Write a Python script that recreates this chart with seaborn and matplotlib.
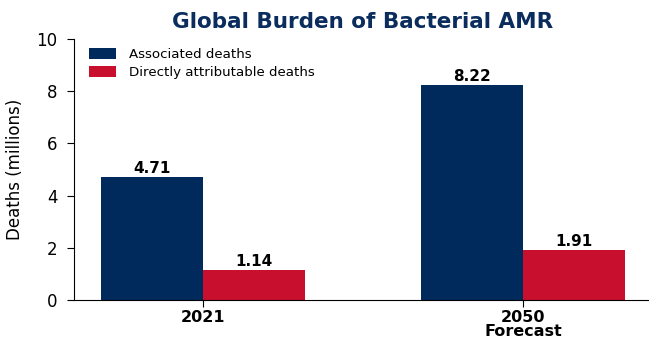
import matplotlib
matplotlib.use("Agg")
import matplotlib.pyplot as plt
import seaborn as sns
import pandas as pd

years = ["2021", "2050\nForecast"]
series = ["Associated deaths", "Directly attributable deaths"]
associated = [4.71, 8.22]
attributable = [1.14, 1.91]
colors = ["#002A5C", "#C8102E"]

df = pd.DataFrame({
    "year": years * 2,
    "series": [series[0]] * 2 + [series[1]] * 2,
    "value": associated + attributable,
})

sns.set_style("ticks")
plt.rcParams['font.family'] = ['DejaVu Sans']
plt.rcParams['text.color'] = 'black'
plt.rcParams['axes.labelcolor'] = 'black'
plt.rcParams['xtick.color'] = 'black'
plt.rcParams['ytick.color'] = 'black'
plt.rcParams['axes.edgecolor'] = 'black'

fig = plt.figure(figsize=(6.49, 3.43), dpi=100)
ax = fig.add_axes([0.114, 0.1254, 0.8906, 0.761])
sns.barplot(data=df, x="year", y="value", hue="series", palette=colors,
            width=0.64, ax=ax, saturation=1, linewidth=0)

for cont in ax.containers:
    ax.bar_label(cont, fmt="%.2f", fontsize=11, fontweight="bold", padding=1,
                 color="black")

ax.set_xlim(-0.403, 1.403)
ax.set_ylim(0, 10)
ax.set_yticks([0, 2, 4, 6, 8, 10])
ax.tick_params(axis="y", labelsize=12, length=5, pad=7)
ax.tick_params(axis="x", labelsize=11.5, length=5, pad=2.5)
for lab in ax.get_xticklabels():
    lab.set_fontweight("bold")
    lab.set_linespacing(0.88)
ax.set_xlabel("")
ax.set_ylabel("Deaths (millions)", fontsize=12, labelpad=9)
ax.set_title("Global Burden of Bacterial AMR", fontsize=15.5, fontweight="bold",
             color="#0A2D5E", pad=8)
sns.despine(ax=ax)
ax.legend(loc="upper left", frameon=False, fontsize=9.6,
          bbox_to_anchor=(0.005, 1.012), handlelength=2.0, handleheight=0.9,
          labelspacing=0.35, handletextpad=1.0)

fig.savefig("out.png", dpi=100)
